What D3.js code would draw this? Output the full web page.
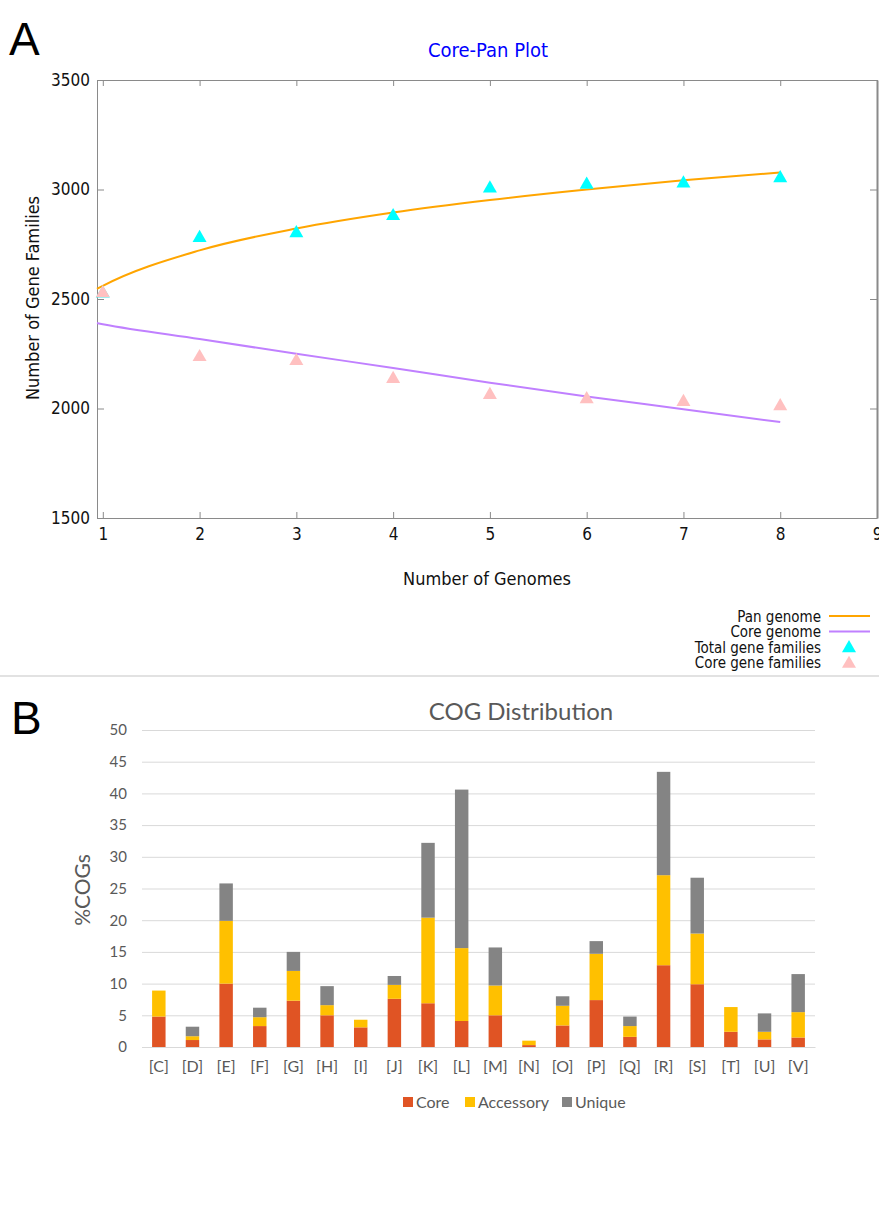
<!DOCTYPE html>
<html>
<head>
<meta charset="utf-8">
<script src="https://cdn.jsdelivr.net/npm/d3@7"></script>
<style>
  body { margin: 0; background: #fff; }
  svg { display: block; }
</style>
</head>
<body>
<div id="chart"></div>
<script>
// ---- panel A data (core-pan plot) ----
var genomes = [1, 2, 3, 4, 5, 6, 7, 8];
var totalFamilies = [2525, 2779, 2801, 2879, 3005, 3022, 3028, 3052];
var coreFamilies = [2527, 2235, 2217, 2135, 2062, 2043, 2030, 2011];
// fitted curves
var fitX = [0.94, 1, 2, 3, 4, 5, 6, 7, 8];
var panFit = [2546, 2560, 2722, 2822, 2895, 2952, 3000, 3042, 3078];
var coreFit = [2390, 2385, 2317, 2250, 2185, 2118, 2055, 1997, 1938];
var xTicksA = [1, 2, 3, 4, 5, 6, 7, 8, 9];
var yTicksA = [1500, 2000, 2500, 3000, 3500];

// ---- panel B data (COG distribution) ----
var cogs = ["[C]", "[D]", "[E]", "[F]", "[G]", "[H]", "[I]", "[J]", "[K]", "[L]",
            "[M]", "[N]", "[O]", "[P]", "[Q]", "[R]", "[S]", "[T]", "[U]", "[V]"];
var coreCog = [4.8, 1.1, 10.0, 3.3, 7.3, 5.0, 3.1, 7.6, 6.9, 4.1, 5.0, 0.3, 3.4, 7.4, 1.6, 12.9, 9.9, 2.4, 1.2, 1.5];
var accessoryCog = [4.1, 0.6, 9.9, 1.4, 4.7, 1.6, 1.2, 2.2, 13.5, 11.5, 4.7, 0.7, 3.1, 7.3, 1.7, 14.2, 8.0, 3.9, 1.2, 4.0];
var uniqueCog = [0, 1.5, 5.9, 1.5, 3.0, 3.0, 0, 1.4, 11.8, 25.0, 6.0, 0, 1.5, 2.0, 1.5, 16.3, 8.8, 0, 2.9, 6.0];
var yTicksB = [0, 5, 10, 15, 20, 25, 30, 35, 40, 45, 50];
var seriesNames = ["Core", "Accessory", "Unique"];
var seriesColors = ["#E05424", "#FFC000", "#848484"];

var w = 879;
var h = 1214;
var fontA = "'DejaVu Sans Condensed', 'DejaVu Sans', sans-serif";
var fontB = "Lato, 'Open Sans', sans-serif";

var svg = d3.select("#chart")
    .append("svg")
    .attr("width", w)
    .attr("height", h);

// panel letters
svg.append("text").text("A")
    .attr("x", 9).attr("y", 55)
    .attr("font-family", "'Liberation Sans', sans-serif")
    .attr("font-size", "46px").attr("fill", "#000");
svg.append("text").text("B")
    .attr("x", 11).attr("y", 734)
    .attr("font-family", "'Liberation Sans', sans-serif")
    .attr("font-size", "46px").attr("fill", "#000");

// =========== Panel A ===========
var xA = d3.scaleLinear().domain([0.94, 9]).range([97, 877]);
var yA = d3.scaleLinear().domain([1500, 3500]).range([518, 80]);

var gA = svg.append("g")
    .attr("font-family", fontA)
    .attr("font-stretch", "condensed");

gA.append("text").text("Core-Pan Plot")
    .attr("x", 488).attr("y", 57)
    .attr("text-anchor", "middle")
    .attr("font-size", "20px")
    .attr("fill", "#0000ff");

// axes with inward ticks
var axisStyle = function (g) {
    g.select(".domain").attr("stroke", "#8a8a8a");
    g.selectAll(".tick line").attr("stroke", "#8a8a8a");
    g.selectAll("text").attr("font-size", "17px").attr("fill", "#111")
        .attr("font-family", fontA).attr("font-stretch", "condensed");
};

gA.append("g")
    .attr("transform", "translate(0," + yA(1500) + ")")
    .call(d3.axisBottom(xA).tickValues(xTicksA).tickSize(-6).tickSizeOuter(0).tickPadding(10))
    .call(axisStyle);
gA.append("g")
    .attr("transform", "translate(0," + yA(3500) + ")")
    .call(d3.axisTop(xA).tickValues(xTicksA).tickSize(-6).tickSizeOuter(0).tickFormat(""))
    .call(axisStyle);
gA.append("g")
    .attr("transform", "translate(" + xA(0.94) + ",0)")
    .call(d3.axisLeft(yA).tickValues(yTicksA).tickFormat(d3.format("d"))
        .tickSize(-7).tickSizeOuter(0).tickPadding(7))
    .call(axisStyle);
gA.append("g")
    .attr("transform", "translate(" + xA(9) + ",0)")
    .call(d3.axisRight(yA).tickValues(yTicksA).tickSize(-7).tickSizeOuter(0).tickFormat(""))
    .call(axisStyle)
    .select(".domain").attr("stroke-width", 2);

// axis titles
gA.append("text").text("Number of Gene Families")
    .attr("transform", "translate(39,298) rotate(-90)")
    .attr("text-anchor", "middle")
    .attr("font-size", "18px").attr("fill", "#111");
gA.append("text").text("Number of Genomes")
    .attr("x", 487).attr("y", 585)
    .attr("text-anchor", "middle")
    .attr("font-size", "18px").attr("fill", "#111");

// fitted curves
var fitLine = d3.line()
    .x(function (d) { return xA(d[0]); })
    .y(function (d) { return yA(d[1]); })
    .curve(d3.curveMonotoneX);

gA.append("path")
    .datum(fitX.map(function (x, i) { return [x, panFit[i]]; }))
    .attr("d", fitLine)
    .attr("fill", "none").attr("stroke", "#FFA500").attr("stroke-width", 2);
gA.append("path")
    .datum(fitX.map(function (x, i) { return [x, coreFit[i]]; }))
    .attr("d", fitLine)
    .attr("fill", "none").attr("stroke", "#C080FF").attr("stroke-width", 2);

var tri = d3.symbol().type(d3.symbolTriangle).size(85);

gA.selectAll(".total")
    .data(totalFamilies)
    .enter()
    .append("path")
    .attr("class", "total")
    .attr("d", tri)
    .attr("transform", function (d, i) { return "translate(" + xA(genomes[i]) + "," + yA(d) + ")"; })
    .attr("fill", "#00FFFF");

gA.selectAll(".corept")
    .data(coreFamilies)
    .enter()
    .append("path")
    .attr("class", "corept")
    .attr("d", tri)
    .attr("transform", function (d, i) { return "translate(" + xA(genomes[i]) + "," + yA(d) + ")"; })
    .attr("fill", "#FFC0C0");

// legend A
var legA = [
    { name: "Pan genome", color: "#FFA500", kind: "line" },
    { name: "Core genome", color: "#C080FF", kind: "line" },
    { name: "Total gene families", color: "#00FFFF", kind: "tri" },
    { name: "Core gene families", color: "#FFC0C0", kind: "tri" }
];
var legRows = gA.selectAll(".legA")
    .data(legA)
    .enter()
    .append("g")
    .attr("class", "legA")
    .attr("transform", function (d, i) { return "translate(0," + (616 + i * 15.6) + ")"; });
legRows.append("text")
    .text(function (d) { return d.name; })
    .attr("x", 821).attr("y", 5.5)
    .attr("text-anchor", "end")
    .attr("font-size", "15px").attr("fill", "#111");
legRows.filter(function (d) { return d.kind === "line"; })
    .append("line")
    .attr("x1", 829).attr("x2", 870).attr("y1", 0).attr("y2", 0)
    .attr("stroke", function (d) { return d.color; }).attr("stroke-width", 2);
legRows.filter(function (d) { return d.kind === "tri"; })
    .append("path")
    .attr("d", tri)
    .attr("transform", "translate(849,1)")
    .attr("fill", function (d) { return d.color; });

// separator
svg.append("line")
    .attr("x1", 0).attr("x2", w).attr("y1", 676).attr("y2", 676)
    .attr("stroke", "#e2e2e2").attr("stroke-width", 2);

// =========== Panel B ===========
var xB = d3.scaleBand().domain(cogs).range([142, 815]).paddingInner(0.6).paddingOuter(0.3);
var yB = d3.scaleLinear().domain([0, 50]).range([1047, 730]);

var gB = svg.append("g").attr("font-family", fontB);

gB.append("text").text("COG Distribution")
    .attr("x", 521).attr("y", 720)
    .attr("text-anchor", "middle")
    .attr("font-size", "24px").attr("fill", "#595959");

// gridlines
gB.append("g")
    .attr("transform", "translate(142,0)")
    .call(d3.axisLeft(yB).tickValues(yTicksB).tickSize(-673).tickPadding(15))
    .call(function (g) {
        g.select(".domain").remove();
        g.selectAll(".tick line").attr("stroke", "#d9d9d9");
        g.selectAll("text").attr("font-size", "15px").attr("fill", "#595959")
            .attr("font-family", fontB);
    });

var stackData = cogs.map(function (c, i) {
    return { cog: c, Core: coreCog[i], Accessory: accessoryCog[i], Unique: uniqueCog[i] };
});
var stacked = d3.stack().keys(seriesNames)(stackData);

gB.selectAll(".series")
    .data(stacked)
    .enter()
    .append("g")
    .attr("class", "series")
    .attr("fill", function (d, i) { return seriesColors[i]; })
    .selectAll("rect")
    .data(function (d) { return d; })
    .enter()
    .append("rect")
    .attr("x", function (d) { return xB(d.data.cog); })
    .attr("y", function (d) { return yB(d[1]); })
    .attr("height", function (d) { return yB(d[0]) - yB(d[1]); })
    .attr("width", xB.bandwidth());

// category axis
gB.append("g")
    .attr("transform", "translate(0," + yB(0) + ")")
    .call(d3.axisBottom(xB).tickSize(0).tickPadding(14))
    .call(function (g) {
        g.select(".domain").attr("stroke", "#d9d9d9");
        g.selectAll("text").attr("font-size", "16px").attr("fill", "#595959")
            .attr("font-family", fontB);
    });

gB.append("text").text("%COGs")
    .attr("transform", "translate(90,890) rotate(-90)")
    .attr("text-anchor", "middle")
    .attr("font-size", "21px").attr("fill", "#595959");

// legend B
var legXs = [403, 465, 562];
var legB = gB.selectAll(".legB")
    .data(seriesNames)
    .enter()
    .append("g")
    .attr("class", "legB")
    .attr("transform", function (d, i) { return "translate(" + legXs[i] + ",1102)"; });
legB.append("rect")
    .attr("x", 0).attr("y", -5).attr("width", 10).attr("height", 10)
    .attr("fill", function (d, i) { return seriesColors[i]; });
legB.append("text")
    .text(function (d) { return d; })
    .attr("x", 13).attr("y", 5.5)
    .attr("font-size", "16px").attr("fill", "#595959");
</script>
</body>
</html>
